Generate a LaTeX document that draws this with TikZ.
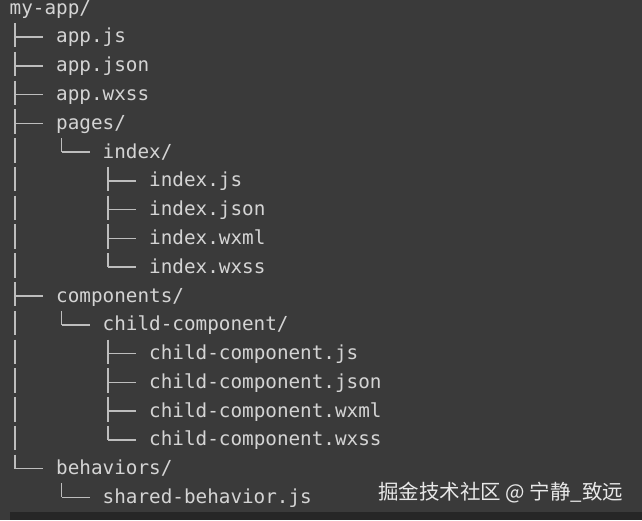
\documentclass[tikz,border=0pt]{standalone}
\usepackage{fontspec}
\setmonofont{DejaVu Sans Mono}
\newfontfamily\cjk{Noto Sans CJK SC}
\usetikzlibrary{calc}
\definecolor{bg}{HTML}{3A3A3A}
\definecolor{strip}{HTML}{262626}
\definecolor{txt}{HTML}{D4D4D4}
\definecolor{ln}{HTML}{BDBDBD}
\definecolor{wmc}{HTML}{E8E8E8}
\begin{document}
\begin{tikzpicture}[x=1pt,y=-1pt,
  item/.style={anchor=base west, inner sep=0pt, text=txt, font=\fontsize{19.3}{20}\selectfont\ttfamily},
  bar/.style={draw=ln, line width=1.6pt, dash pattern=on 24.4pt off 4.38pt},
  tick/.style={draw=ln, line width=1.6pt}]
\useasboundingbox (0,0) rectangle (642,520);
\fill[bg] (0,0) rectangle (642,520);
\fill[strip] (10,511.5) rectangle (642,520);
\def\rs{28.78}
\def\bz{14.2}
\node[item] (root) at (9.5,\bz) {my-app/};
\node[item] (appjs) at (56,{\bz+1*\rs}) {app.js};
\node[item] (appjson) at (56,{\bz+2*\rs}) {app.json};
\node[item] (appwxss) at (56,{\bz+3*\rs}) {app.wxss};
\node[item] (pages) at (56,{\bz+4*\rs}) {pages/};
\node[item] (index) at (102.5,{\bz+5*\rs}) {index/};
\node[item] (ijs) at (149,{\bz+6*\rs}) {index.js};
\node[item] (ijson) at (149,{\bz+7*\rs}) {index.json};
\node[item] (iwxml) at (149,{\bz+8*\rs}) {index.wxml};
\node[item] (iwxss) at (149,{\bz+9*\rs}) {index.wxss};
\node[item] (comps) at (56,{\bz+10*\rs}) {components/};
\node[item] (child) at (102.5,{\bz+11*\rs}) {child-component/};
\node[item] (cjs) at (149,{\bz+12*\rs}) {child-component.js};
\node[item] (cjson) at (149,{\bz+13*\rs}) {child-component.json};
\node[item] (cwxml) at (149,{\bz+14*\rs}) {child-component.wxml};
\node[item] (cwxss) at (149,{\bz+15*\rs}) {child-component.wxss};
\node[item] (behav) at (56,{\bz+16*\rs}) {behaviors/};
\node[item] (shared) at (102.5,{\bz+17*\rs}) {shared-behavior.js};
% vertical bars
\newcommand{\treebar}[2]{\draw[bar] ($(#1.base west)+(5.5,8.8)$) -- ($(#2.base west -| #1.base west)+(5.5,-6)$);}
\newcommand{\treekid}[2]{\draw[tick] ($(#2.base west -| #1.base west)+(5.5,-6)$) -- ($(#2.base west)+(-13,-6)$);}
\treebar{root}{behav}
\treebar{pages}{index}
\treebar{index}{iwxss}
\treebar{comps}{child}
\treebar{child}{cwxss}
\treebar{behav}{shared}
\foreach \c in {appjs,appjson,appwxss,pages,comps,behav} {\treekid{root}{\c}}
\treekid{pages}{index}
\foreach \c in {ijs,ijson,iwxml,iwxss} {\treekid{index}{\c}}
\treekid{comps}{child}
\foreach \c in {cjs,cjson,cwxml,cwxss} {\treekid{child}{\c}}
\treekid{behav}{shared}
\node[anchor=base west, inner sep=0pt, text=wmc, font=\cjk\fontsize{20.5}{22}\selectfont] (wm) at (378,499) {掘金技术社区 @ 宁静\_致远};
\end{tikzpicture}
\end{document}
